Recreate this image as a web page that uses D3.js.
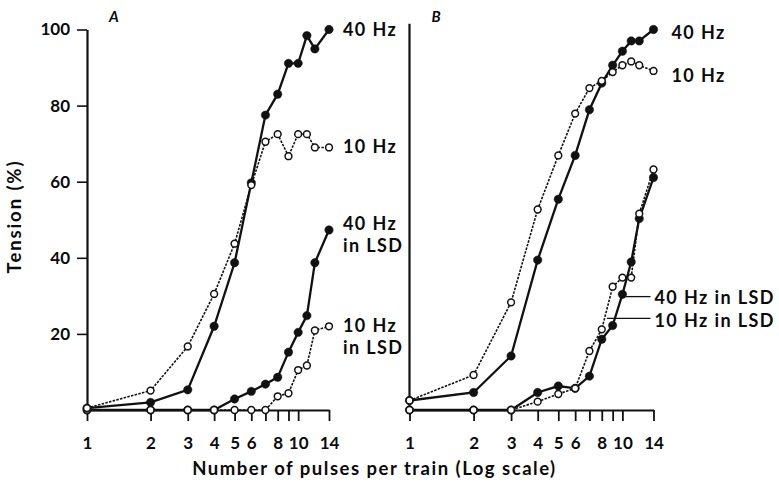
<!DOCTYPE html>
<html>
<head>
<meta charset="utf-8">
<script src="https://cdn.jsdelivr.net/npm/d3@7/dist/d3.min.js"></script>
<style>
  html, body { margin: 0; padding: 0; background: #fff; }
  text { font-family: Lato, "Open Sans", sans-serif; fill: #0a0a0a; }
</style>
</head>
<body>
<svg id="chart" width="779" height="483"></svg>
<script>
// pulses per train (x values, log scale)
var pulses = [1, 2, 3, 4, 5, 6, 7, 8, 9, 10, 11, 12, 14];
var xTicks = [1, 2, 3, 4, 5, 6, 7, 8, 9, 10, 14];
var xTickLabels = {1: "1", 2: "2", 3: "3", 4: "4", 5: "5", 6: "6", 8: "8", 10: "10", 14: "14"};
var yTicks = [20, 40, 60, 80, 100];

// panel A, tension (%)
var a40 = [0.5, 2.0, 5.3, 22.0, 38.7, 59.7, 77.5, 83.0, 91.1, 91.1, 98.4, 94.9, 100];
var a10 = [0.5, 5.1, 16.7, 30.5, 43.7, 59.1, 70.5, 72.5, 66.7, 72.5, 72.5, 69.0, 69.0];
var a40lsd = [0, 0, 0, 0, 2.9, 4.9, 6.8, 8.6, 15.2, 20.4, 24.8, 38.7, 47.3];
var a10lsd = [0, 0, 0, 0, 0, 0, 0, 3.6, 4.4, 10.5, 11.7, 20.9, 22.0];

// panel B
var b40 = [2.5, 4.6, 14.2, 39.4, 55.4, 66.9, 78.9, 85.9, 90.6, 94.3, 97.0, 97.0, 100];
var b10 = [2.5, 9.2, 28.3, 52.7, 66.9, 77.9, 84.6, 86.5, 88.8, 90.6, 91.6, 90.6, 89.1];
var b40lsd = [0, 0, 0, 4.6, 6.3, 5.7, 8.9, 18.6, 22.2, 30.4, 38.9, 50.3, 61.1];
var b10lsd = [0, 0, 0, 2.2, 4.2, 5.7, 15.5, 21.2, 32.4, 34.8, 34.8, 51.6, 63.2];

var svg = d3.select("#chart");

var y = d3.scaleLinear().domain([0, 100]).range([410, 29.5]);
var xA = d3.scaleLog().domain([1, 14]).range([87, 329]);
var xB = d3.scaleLog().domain([1, 14]).range([409.5, 653.5]);

function drawPanel(x, series, letter, showY) {
  var g = svg.append("g");

  // x axis
  var xa = g.append("g")
      .attr("transform", "translate(0," + y(0) + ")")
      .call(d3.axisBottom(x).tickValues(xTicks).tickSize(11).tickSizeOuter(0)
            .tickFormat(d => xTickLabels[d] || ""));
  xa.select(".domain").attr("stroke", "#111").attr("stroke-width", 2);
  xa.selectAll(".tick line").attr("stroke", "#111").attr("stroke-width", 1.8);
  xa.selectAll(".tick text").attr("dy", "1.45em")
      .style("font-size", "17px").style("font-weight", 700).attr("fill", "#0a0a0a");

  // y axis
  if (showY) {
    var ya = g.append("g")
        .attr("transform", "translate(" + x(1) + ",0)")
        .call(d3.axisLeft(y).tickValues(yTicks).tickSize(10).tickSizeOuter(0).tickPadding(7));
    ya.select(".domain").attr("stroke", "#111").attr("stroke-width", 2.2);
    ya.selectAll(".tick line").attr("stroke", "#111").attr("stroke-width", 1.6);
    ya.selectAll(".tick text").style("font-size", "17px").style("font-weight", 700).attr("fill", "#0a0a0a");
  } else {
    g.append("line")
        .attr("x1", x(1)).attr("x2", x(1))
        .attr("y1", y(0)).attr("y2", y(101.5))
        .attr("stroke", "#111").attr("stroke-width", 2.2);
  }

  g.append("text")
      .attr("x", x(1) + 22).attr("y", 22)
      .style("font-size", "15px").style("font-style", "italic").style("font-weight", 700)
      .text(letter);

  var line = d3.line().x((d, i) => x(pulses[i])).y(d => y(d));

  series.forEach(function (s) {
    g.append("path")
        .datum(s.values)
        .attr("d", line)
        .attr("fill", "none")
        .attr("stroke", "#111")
        .attr("stroke-width", s.filled ? 2.3 : 1.6)
        .attr("stroke-dasharray", s.filled ? null : "2.5,1.3");
  });

  series.forEach(function (s) {
    g.selectAll(null)
        .data(s.values)
        .enter().append("circle")
        .attr("cx", (d, i) => x(pulses[i]))
        .attr("cy", d => y(d))
        .attr("r", s.filled ? 4.2 : 3.4)
        .attr("fill", s.filled ? "#111" : "#fff")
        .attr("stroke", "#111")
        .attr("stroke-width", s.filled ? 0.5 : 1.5);
  });
}

drawPanel(xA, [
  {values: a40lsd, filled: true},
  {values: a10lsd, filled: false},
  {values: a40, filled: true},
  {values: a10, filled: false}
], "A", true);

drawPanel(xB, [
  {values: b40lsd, filled: true},
  {values: b10lsd, filled: false},
  {values: b40, filled: true},
  {values: b10, filled: false}
], "B", false);

// series labels
function label(xp, yv, lines) {
  var t = svg.append("text")
      .attr("x", xp).attr("y", y(yv) + 6.5)
      .style("font-size", "18px").style("font-weight", 700).style("letter-spacing", "1.4px");
  lines.forEach(function (s, i) {
    t.append("tspan").attr("x", xp).attr("dy", i ? 22 : 0).text(s);
  });
}
label(xA(14) + 14, 100, ["40 Hz"]);
label(xA(14) + 14, 69.3, ["10 Hz"]);
label(xA(14) + 14, 49, ["40 Hz", "in LSD"]);
label(xA(14) + 14, 22.3, ["10 Hz", "in LSD"]);
label(xB(14) + 18, 99.3, ["40 Hz"]);
label(xB(14) + 18, 88, ["10 Hz"]);
label(xB(14) + 1, 29.6, ["40 Hz in LSD"]);
label(xB(14) + 1, 23.6, ["10 Hz in LSD"]);

// leader lines for panel B LSD labels
svg.append("line")
    .attr("x1", xB(10.35)).attr("x2", xB(14) - 3)
    .attr("y1", y(29.8)).attr("y2", y(29.8))
    .attr("stroke", "#111").attr("stroke-width", 1.3);
svg.append("line")
    .attr("x1", xB(8.45)).attr("x2", xB(14) - 3)
    .attr("y1", y(24.1)).attr("y2", y(24.1))
    .attr("stroke", "#111").attr("stroke-width", 1.3);

// axis titles
svg.append("text")
    .attr("x", 374.5).attr("y", 474.5)
    .attr("text-anchor", "middle")
    .style("font-size", "18.5px").style("font-weight", 700).style("letter-spacing", "1.5px")
    .text("Number of pulses per train (Log scale)");

svg.append("text")
    .attr("transform", "translate(21,216.5) rotate(-90)")
    .attr("text-anchor", "middle")
    .style("font-size", "18.5px").style("font-weight", 700).style("letter-spacing", "1.9px")
    .text("Tension (%)");
</script>
</body>
</html>
